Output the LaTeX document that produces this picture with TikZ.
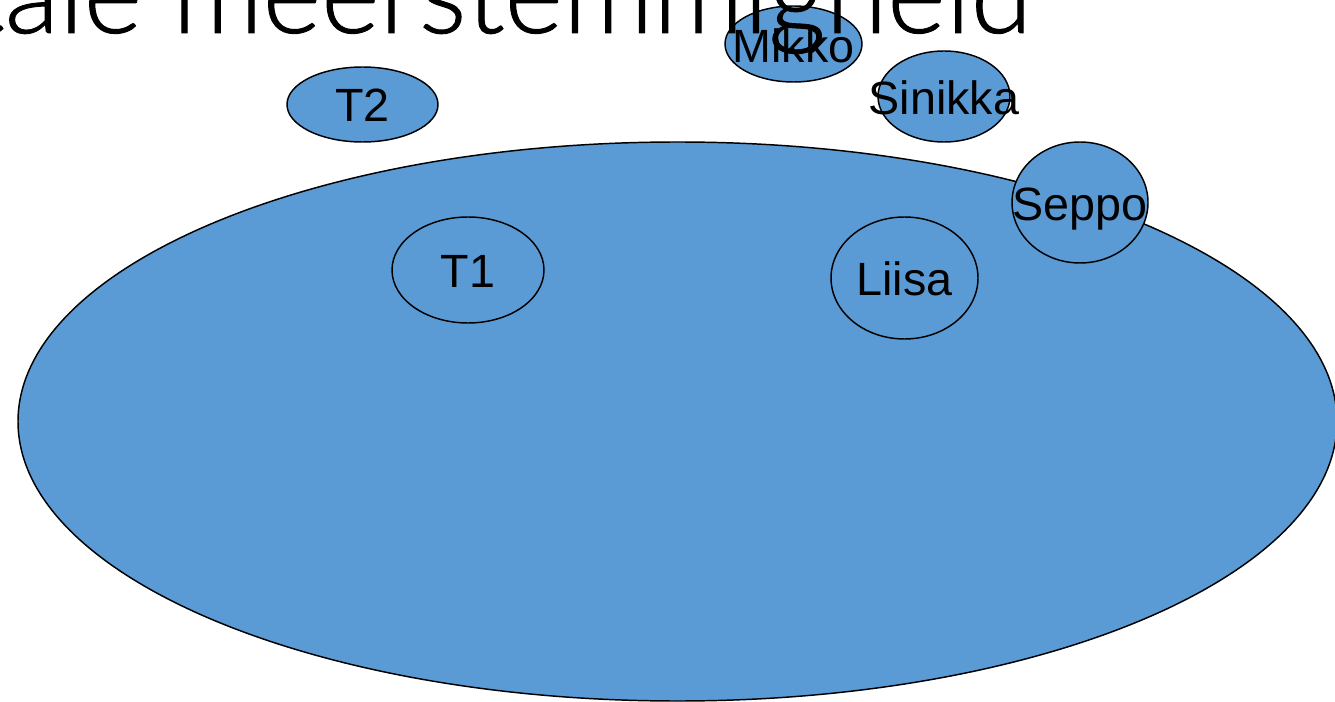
\documentclass[tikz,border=0pt]{standalone}
\usepackage{fontspec}
\setmainfont{Liberation Sans}
\newfontfamily\headfont{Lato}[UprightFont={* Light}, FakeBold=0.8]
\definecolor{votefill}{RGB}{91,155,213}
\tikzset{
  voter/.style={draw=black, line width=1.1pt, fill=votefill},
  voter label/.style={inner sep=0pt, text height=25pt, text depth=0pt,
    font=\fontsize{35}{35}\selectfont},
}

\begin{document}
\begin{tikzpicture}[x=0.75pt,y=0.75pt,yscale=-1,xscale=1]
\useasboundingbox (0,0) rectangle (1335,702);

%Shape: Ellipse [majority]
\draw [voter] (677.5,421.5) ellipse [x radius=659.5, y radius=279.5];
%Shape: Ellipse
\draw [voter] (362.5,104.5) ellipse [x radius=75.5, y radius=37.5];
%Shape: Ellipse
\draw [voter] (468,270) ellipse [x radius=76, y radius=53];
%Shape: Ellipse
\draw [voter] (793.5,44) ellipse [x radius=68.5, y radius=38];
%Shape: Ellipse
\draw [voter] (944,96.5) ellipse [x radius=66, y radius=45.5];
%Shape: Ellipse
\draw [voter] (904.5,278) ellipse [x radius=73.5, y radius=61];
%Shape: Ellipse
\draw [voter] (1080,202.5) ellipse [x radius=68, y radius=60.5];

% Text Node
\draw (362.5,104.5) node [voter label] (t2) {T2};
% Text Node
\draw (468,271) node [voter label] (t1) {T1};
% Text Node
\draw (793.5,46) node [voter label] (mikko) {Mikko};
% Text Node
\draw (944,97.5) node [voter label] (sinikka) {Sinikka};
% Text Node
\draw (904.5,279) node [voter label] (liisa) {Liisa};
% Text Node
\draw (1080,203.5) node [voter label] (seppo) {Seppo};

% Text Node
\draw (1032,33) node [anchor=base east, inner sep=0pt,
  font=\headfont\fontsize{84}{84}\selectfont] (heading) {tale meerstemmigheid};

\end{tikzpicture}
\end{document}
